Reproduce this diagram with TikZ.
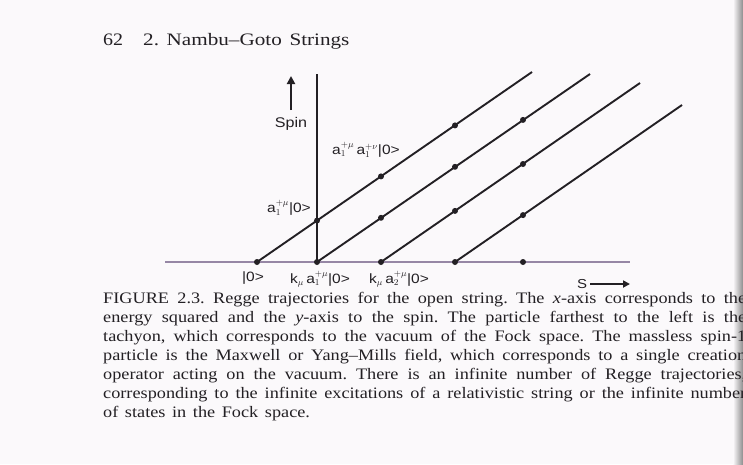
\documentclass[tikz,border=0pt]{standalone}
\usepackage{fontspec}
\setmainfont{Liberation Serif}[FakeStretch=1.14, WordSpace={1.45,1.3,1}]
\setsansfont{Liberation Sans}[FakeStretch=1.15]
\usetikzlibrary{arrows.meta}
\definecolor{paper}{RGB}{251,249,251}
\definecolor{ink}{RGB}{35,32,36}
\definecolor{axiscol}{RGB}{150,135,165}
\tikzset{
  traj/.style={line width=1.9pt, draw=ink},
  vaxis/.style={line width=1.4pt, draw=ink},
  haxis/.style={line width=1.7pt, draw=axiscol},
  dotnode/.style={circle, fill=ink, inner sep=0pt, minimum size=6pt},
  lbl/.style={font=\sffamily\fontsize{13.5}{15}\selectfont, text=ink, inner sep=0pt},
  capline/.style={anchor=base west, inner sep=0pt, font=\fontsize{16}{19}\selectfont, text=ink},
  headtxt/.style={anchor=base west, inner sep=0pt, font=\fontsize{17.5}{20}\selectfont, text=ink},
  bigarrow/.style={line width=2.6pt, draw=ink, -{Triangle[length=8pt,width=8pt]}},
}
\frenchspacing
\begin{document}
\frenchspacing
\begin{tikzpicture}[x=1pt,y=-1pt]
\useasboundingbox (0,0) rectangle (743,464);
\clip (0,0) rectangle (743,464);
\fill[paper] (0,0) rectangle (743,464);
\shade[left color=paper, right color=black!45] (733,0) rectangle (743,464);

% header
\node[headtxt] (pagenum) at (103,45) {62};
\node[headtxt] (title) at (143,45) {\scalebox{1.06}[1]{2. Nambu--Goto Strings}};

% axes
\coordinate (hl) at (165,262);
\coordinate (hr) at (630,262);
\draw[haxis] (hl) -- (hr);

% dots on the axis (start of trajectories)
\node[dotnode] (p00) at (257,262) {};
\node[dotnode] (p11) at (317,262) {};
\node[dotnode] (p22) at (381,262) {};
\node[dotnode] (p33) at (455,262) {};
\node[dotnode] (a4)  at (523,262) {};

% vertical axis
\coordinate (vtop) at (317,74);
\draw[vaxis] (vtop) -- (p11.center);

% trajectory end points
\coordinate (e0) at (532,72);
\coordinate (e1) at (590,74);
\coordinate (e2) at (640,83);
\coordinate (e3) at (682,105);

\draw[traj] (p00.center) -- (e0);
\draw[traj] (p11.center) -- (e1);
\draw[traj] (p22.center) -- (e2);
\draw[traj] (p33.center) -- (e3);

% dots on the trajectories
\node[dotnode] (p01) at (317,220.6) {};
\node[dotnode] (p02) at (381,176.4) {};
\node[dotnode] (p03) at (455,125.4) {};
\node[dotnode] (p12) at (381,217.8) {};
\node[dotnode] (p13) at (455,166.8) {};
\node[dotnode] (p14) at (523,119.9) {};
\node[dotnode] (p23) at (455,210.9) {};
\node[dotnode] (p24) at (523,164.0) {};
\node[dotnode] (p34) at (523,215.1) {};

% spin arrow and label
\coordinate (sb) at (291,110);
\coordinate (st) at (291,76);
\draw[bigarrow] (sb) -- (st);
\node[lbl, font=\sffamily\fontsize{14}{16}\selectfont] (spin) at (291,124) {Spin};

% s arrow
\node[lbl, font=\sffamily\fontsize{13}{15}\selectfont] (slbl) at (582,284) {S};
\coordinate (sarr) at (630,284);
\draw[line width=2.2pt, draw=ink, -{Triangle[length=7pt,width=7pt]}] (slbl.east) ++(3,0) -- (sarr);

% state labels
\node[lbl] (l0) at (253,278) {|0>};
\node[lbl] (l1) at (320,279) {k$_\mu\,$a$_1^{+\mu}$|0>};
\node[lbl] (l2) at (399,279) {k$_\mu\,$a$_2^{+\mu}$|0>};
\node[lbl, anchor=east] (l3) at (311,208) {a$_1^{+\mu}$|0>};
\node[lbl, anchor=west] (l4) at (332,150) {a$_1^{+\mu}\,$a$_1^{+\nu}$|0>};

% caption
\node[capline] (c1) at (103,303) {\makebox[643pt][s]{FIGURE 2.3. Regge trajectories for the open string. The \textit{x}-axis corresponds to the}};
\node[capline] (c2) at (103,322) {\makebox[643pt][s]{energy squared and the \textit{y}-axis to the spin. The particle farthest to the left is the}};
\node[capline] (c3) at (103,341) {\makebox[643pt][s]{tachyon, which corresponds to the vacuum of the Fock space. The massless spin-1}};
\node[capline] (c4) at (103,360) {\makebox[643pt][s]{particle is the Maxwell or Yang--Mills field, which corresponds to a single creation}};
\node[capline] (c5) at (103,379) {\makebox[643pt][s]{operator acting on the vacuum. There is an infinite number of Regge trajectories,}};
\node[capline] (c6) at (103,398) {\makebox[643pt][s]{corresponding to the infinite excitations of a relativistic string or the infinite number}};
\node[capline] (c7) at (103,417) {of states in the Fock space.};
\end{tikzpicture}
\end{document}
